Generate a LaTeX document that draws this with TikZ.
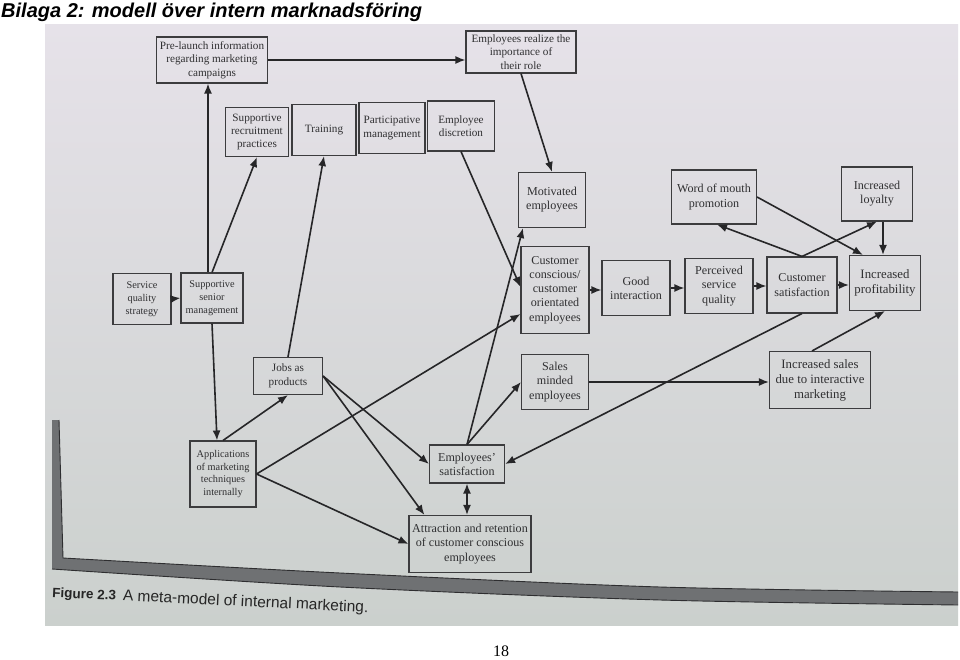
\documentclass[tikz,border=0pt]{standalone}
\usepackage{fontspec}
\setmainfont{Liberation Serif}
\newfontfamily\sansf{Liberation Sans}
\usetikzlibrary{arrows.meta}
\definecolor{bgtop}{HTML}{E6E2E9}
\definecolor{bgmid}{HTML}{D5DDD5}
\definecolor{bgbot}{HTML}{CBD0CD}
\definecolor{bandc}{HTML}{6F7173}
\definecolor{edgec}{HTML}{2E2E30}
\definecolor{boxline}{HTML}{3C3C3E}
\definecolor{boxtext}{HTML}{303032}
\definecolor{arrc}{HTML}{262628}
\tikzset{
  box/.style={draw=boxline, line width=1.1pt, align=center, inner sep=2pt, text=boxtext},
  bten/.style={font=\fontsize{10.3}{12.8}\selectfont},
  beleven/.style={font=\fontsize{11.2}{13.4}\selectfont},
  btwelve/.style={font=\fontsize{12.1}{14.2}\selectfont},
  bthirteen/.style={font=\fontsize{12.8}{15}\selectfont},
  arr/.style={draw=arrc, line width=1.6pt, -{Latex[length=10pt,width=8pt]}},
  darr/.style={draw=arrc, line width=1.6pt, {Latex[length=10pt,width=8pt]}-{Latex[length=10pt,width=8pt]}}
}
\begin{document}
\begin{tikzpicture}[x=1pt,y=-1pt]
\useasboundingbox (0,0) rectangle (960,660);
\fill[white] (0,0) rectangle (960,660);
% photo background
\shade[top color=bgtop, middle color=bgmid, bottom color=bgbot] (45,25) rectangle (958,625);
% frame band
\fill[bandc] (52,420) -- (59,420) -- (63,558) -- plot[smooth] coordinates {(63,558) (340,573) (660,587) (958,592)} -- (958,605) -- plot[smooth] coordinates {(958,605) (660,600) (340,587) (52,569)} -- cycle;
\draw[edgec, line width=0.9pt] (59,420) -- (63,558) -- plot[smooth] coordinates {(63,558) (340,573) (660,587) (958,592)};
\draw[edgec, line width=0.9pt] plot[smooth] coordinates {(958,605) (660,600) (340,587) (52,569)};

% nodes
\node[box,beleven,minimum width=111pt,minimum height=46pt] (pre) at (212,60) {Pre-launch information\\regarding marketing\\campaigns};
\node[box,beleven,minimum width=110pt,minimum height=42pt] (realize) at (521,52) {Employees realize the\\importance of\\their role};
\node[box,beleven,minimum width=63pt,minimum height=49pt] (recr) at (257,132) {Supportive\\recruitment\\practices};
\node[box,beleven,minimum width=64pt,minimum height=51pt] (train) at (324,130) {Training};
\node[box,beleven,minimum width=66pt,minimum height=51pt] (part) at (392,128) {Participative\\management};
\node[box,beleven,minimum width=67pt,minimum height=50pt] (disc) at (461,126) {Employee\\discretion};
\node[box,btwelve,minimum width=67pt,minimum height=55pt] (motiv) at (552,200) {Motivated\\employees};
\node[box,btwelve,minimum width=68pt,minimum height=87pt] (ccust) at (555,290) {Customer\\conscious/\\customer\\orientated\\employees};
\node[box,btwelve,minimum width=68pt,minimum height=55pt] (good) at (636,288) {Good\\interaction};
\node[box,btwelve,minimum width=68pt,minimum height=55pt] (perc) at (719,286) {Perceived\\service\\quality};
\node[box,btwelve,minimum width=70pt,minimum height=56pt] (csat) at (802,285) {Customer\\satisfaction};
\node[box,bthirteen,minimum width=71pt,minimum height=55pt] (prof) at (885,283) {Increased\\profitability};
\node[box,btwelve,minimum width=85pt,minimum height=54pt] (wom) at (714,197) {Word of mouth\\promotion};
\node[box,btwelve,minimum width=71pt,minimum height=54pt] (loyal) at (877,194) {Increased\\loyalty};
\node[box,bten,minimum width=58pt,minimum height=51pt] (sqs) at (142,299) {Service\\quality\\strategy};
\node[box,bten,minimum width=62pt,minimum height=50pt] (ssm) at (212,298) {Supportive\\senior\\management};
\node[box,beleven,minimum width=69pt,minimum height=37pt] (jobs) at (288,376) {Jobs as\\products};
\node[box,btwelve,minimum width=67pt,minimum height=55pt] (sales) at (555,382) {Sales\\minded\\employees};
\node[box,bthirteen,minimum width=101pt,minimum height=57pt] (isales) at (820,380) {Increased sales\\due to interactive\\marketing};
\node[box,bten,minimum width=66pt,minimum height=66pt] (appl) at (223,474) {Applications\\of marketing\\techniques\\internally};
\node[box,btwelve,minimum width=75pt,minimum height=38pt] (esat) at (467,464) {Employees’\\satisfaction};
\node[box,btwelve,minimum width=122pt,minimum height=57pt] (attr) at (470,544) {Attraction and retention\\of customer conscious\\employees};

% connectors
\draw[arr] ([xshift=-4pt]ssm.north) -- ([xshift=-4pt]pre.south);
\draw[arr] (ssm.north) -- (recr.south);
\draw[arr] (ssm.south) -- ([xshift=-6pt]appl.north);
\draw[arr] (sqs.east) -- (ssm.west);
\draw[arr] (pre.east) -- (pre.east -| realize.west);
\draw[arr] (realize.south) -- (motiv.north);
\draw[arr] (disc.south) -- ([yshift=3pt]ccust.west);
\draw[arr] (jobs.north) -- (train.south);
\draw[arr] (appl.north) -- (jobs.south);
\draw[arr] (appl.east) -- ([yshift=-24pt]ccust.west);
\draw[arr] (appl.east) -- (attr.west);
\draw[arr] (jobs.east) -- (esat.west);
\draw[arr] (jobs.east) -- ([xshift=16pt]attr.north west);
\draw[arr] (esat.north) -- ([xshift=5pt]motiv.south west);
\draw[arr] (esat.north) -- (sales.west);
\draw[darr] (esat.south) -- (esat.south |- attr.north);
\draw[arr] (ccust.east) -- (ccust.east -| good.west);
\draw[arr] (good.east) -- (good.east -| perc.west);
\draw[arr] (perc.east) -- (perc.east -| csat.west);
\draw[arr] (csat.east) -- (csat.east -| prof.west);
\draw[arr] (csat.north) -- ([xshift=3pt]wom.south);
\draw[arr] (csat.north) -- (loyal.south);
\draw[arr] (wom.east) -- ([xshift=14pt]prof.north west);
\draw[arr] ([xshift=6pt]loyal.south) -- ([xshift=6pt]loyal.south |- prof.north);
\draw[arr] (csat.south) -- (esat.east);
\draw[arr] (sales.east) -- (sales.east -| isales.west);
\draw[arr] ([xshift=-8pt]isales.north) -- (prof.south);

% caption, heading, page number
\node[anchor=base west, rotate=-2.8, inner sep=0, text=black!85, font=\sansf] (cap) at (52,597) {{\bfseries\fontsize{13.5}{14}\selectfont Figure 2.3}\hspace{7pt}{\fontsize{15.5}{16}\selectfont A meta-model of internal marketing.}};
\node[anchor=base west, inner sep=0, font=\sansf\bfseries\itshape\fontsize{20}{21}\selectfont] (title) at (1,17.5) {Bilaga 2: modell över intern marknadsföring};
\node[anchor=base, inner sep=0, font=\fontsize{16}{17}\selectfont] (page) at (501,656.5) {18};
\end{tikzpicture}
\end{document}
